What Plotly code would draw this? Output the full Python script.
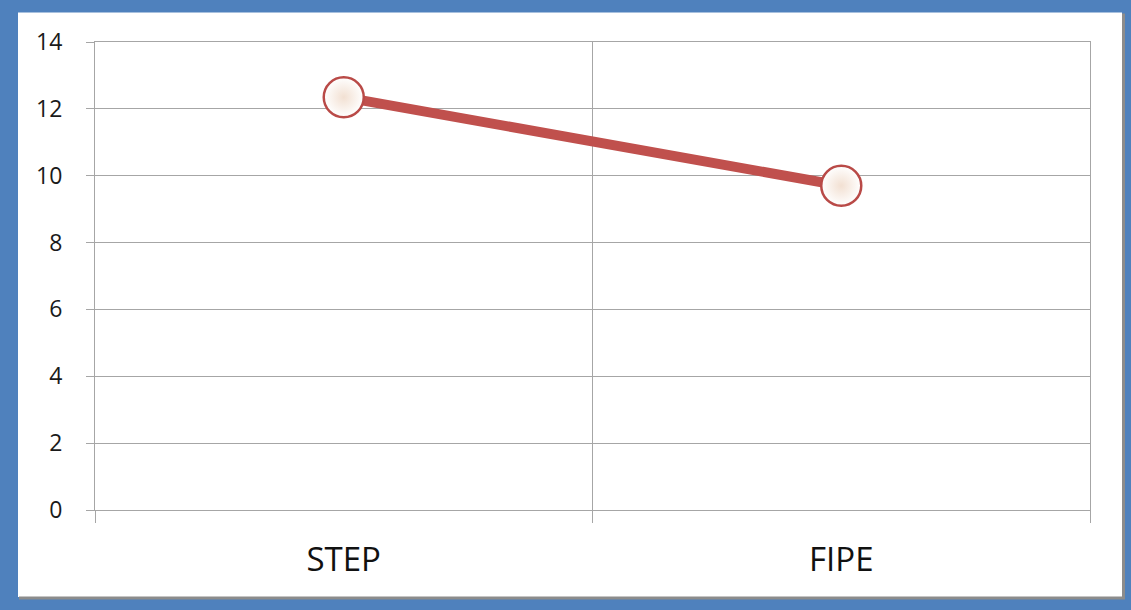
import plotly.graph_objects as go

# Data
categories = ["STEP", "FIPE"]
values = [12.35, 9.7]
y_ticks = [0, 2, 4, 6, 8, 10, 12, 14]

W, H = 1131, 610
# plot-area pixel box
L, R, T, B = 95, 1090, 41.5, 510

RED = "#C0504D"
GRID = "#A6A6A6"
FRAME = "#4F81BD"

fig = go.Figure()
fig.add_trace(go.Scatter(
    x=categories, y=values, mode="lines+markers",
    line=dict(color=RED, width=10),
    marker=dict(size=40, color="#FFFFFF", symbol="circle",
                gradient=dict(type="radial", color="#F2E0D2"),
                line=dict(color="#B94A47", width=2.5)),
    showlegend=False, hoverinfo="x+y",
))


def px_x(p):
    return (p - L) / (R - L)


def px_y(p):
    return (B - p) / (B - T)


shapes = [
    # white card inside the blue frame
    dict(type="rect", xref="paper", yref="paper", layer="below",
         x0=px_x(18), x1=px_x(1122), y0=px_y(597), y1=px_y(12),
         fillcolor="white", line=dict(width=0)),
    # thin grey edge along right and bottom of the card
    dict(type="line", xref="paper", yref="paper", layer="below",
         x0=px_x(1123.5), x1=px_x(1123.5), y0=px_y(599), y1=px_y(13),
         line=dict(color="#8C8C8C", width=3)),
    dict(type="line", xref="paper", yref="paper", layer="below",
         x0=px_x(19), x1=px_x(1125), y0=px_y(598), y1=px_y(598),
         line=dict(color="#8C8C8C", width=3)),
]

fig.update_layout(
    width=W, height=H,
    margin=dict(l=L, r=W - R, t=T, b=H - B),
    paper_bgcolor=FRAME, plot_bgcolor="white",
    font=dict(family="Open Sans, Lato, sans-serif", color="#1A1A1A"),
    shapes=shapes,
    xaxis=dict(
        type="category", range=[-0.5, 1.5], tickson="boundaries",
        showgrid=True, gridcolor=GRID, gridwidth=1,
        ticks="outside", ticklen=12, tickcolor=GRID, tickwidth=1,
        showline=True, linecolor=GRID, linewidth=1, mirror=True,
        tickfont=dict(size=33, family="Open Sans, sans-serif", color="#111111"),
        ticklabelstandoff=20,
    ),
    yaxis=dict(
        range=[0, 14], tickvals=y_ticks, ticktext=[str(v) for v in y_ticks],
        showgrid=True, gridcolor=GRID, gridwidth=1, zeroline=False,
        ticks="outside", ticklen=8, tickcolor=GRID, tickwidth=1,
        showline=True, linecolor=GRID, linewidth=1, mirror=True,
        tickfont=dict(size=23, family="Open Sans, sans-serif", color="#1A1A1A"),
        ticklabelstandoff=19,
    ),
)

fig.write_html("out.html")
